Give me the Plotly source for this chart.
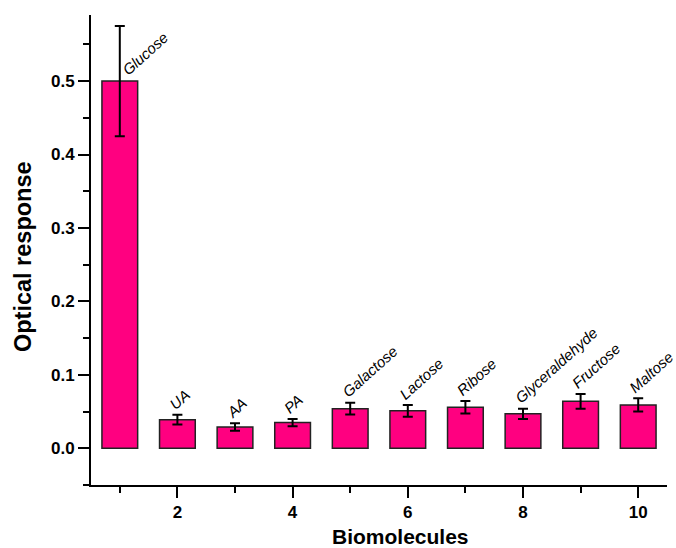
import plotly.graph_objects as go

# Response of the sensor towards each biomolecule (positions 1..10)
positions = [1, 2, 3, 4, 5, 6, 7, 8, 9, 10]
names = ["Glucose", "UA", "AA", "PA", "Galactose", "Lactose", "Ribose",
         "Glyceraldehyde", "Fructose", "Maltose"]
response = [0.500, 0.039, 0.029, 0.035, 0.054, 0.051, 0.056, 0.047, 0.064, 0.059]
error = [0.075, 0.0065, 0.005, 0.005, 0.008, 0.008, 0.0085, 0.007, 0.010, 0.009]

x_ticks = [2, 4, 6, 8, 10]
y_ticks = [0.0, 0.1, 0.2, 0.3, 0.4, 0.5]

BAR_COLOR = "#FF0080"
FONT = "Liberation Sans, Arial, sans-serif"

fig = go.Figure()
fig.add_trace(go.Bar(
    x=positions,
    y=response,
    width=0.62,
    marker=dict(color=BAR_COLOR, line=dict(color="#222222", width=1.5)),
    error_y=dict(type="data", array=error, visible=True,
                 color="black", thickness=2, width=5),
    hoverinfo="x+y",
))

# Italic rotated names above each bar; the tallest bar gets its name beside the cap
for xi, name, val, err in zip(positions, names, response, error):
    if name == "Glucose":
        y_anchor, xs, ys = val, -2, 1
    else:
        y_anchor, xs, ys = val + err, -13, 1
    fig.add_annotation(
        x=xi, y=y_anchor, text=name, showarrow=False,
        textangle=-42, xanchor="left", yanchor="bottom",
        xshift=xs, yshift=ys, borderpad=0,
        font=dict(family=FONT, size=15, color="black", style="italic"),
    )

# Axis titles
fig.add_annotation(
    x=0.538, y=-0.1106, xref="paper", yref="paper", text="Biomolecules",
    showarrow=False, xanchor="center", yanchor="middle",
    font=dict(family=FONT, size=21, color="black", weight="bold"),
)
fig.add_annotation(
    x=-0.118, y=0.485, xref="paper", yref="paper", text="Optical response",
    showarrow=False, textangle=-90, xanchor="center", yanchor="middle",
    font=dict(family=FONT, size=23.5, color="black", weight="bold"),
)

fig.update_layout(
    width=676, height=548,
    margin=dict(l=91, r=9, t=15, b=63),
    plot_bgcolor="white", paper_bgcolor="white",
    showlegend=False,
    font=dict(family=FONT, color="black"),
)

fig.update_xaxes(
    range=[0.5, 10.5],
    tickmode="array", tickvals=x_ticks, ticktext=[str(v) for v in x_ticks],
    ticks="outside", ticklen=11, tickwidth=2, tickcolor="black",
    minor=dict(dtick=1, tick0=0, ticks="outside", ticklen=6, tickwidth=2, tickcolor="black"),
    showline=True, linecolor="black", linewidth=2,
    showgrid=False, zeroline=False,
    tickfont=dict(family=FONT, size=17, color="black", weight="bold"),
)

fig.update_yaxes(
    range=[-0.05, 0.59],
    tickmode="array", tickvals=y_ticks, ticktext=[f"{v:.1f}" for v in y_ticks],
    ticks="outside", ticklen=11, tickwidth=2, tickcolor="black",
    minor=dict(dtick=0.05, tick0=0, ticks="outside", ticklen=6, tickwidth=2, tickcolor="black"),
    showline=True, linecolor="black", linewidth=2,
    showgrid=False, zeroline=False,
    tickfont=dict(family=FONT, size=17, color="black", weight="bold"),
)

fig.write_html("out.html")
